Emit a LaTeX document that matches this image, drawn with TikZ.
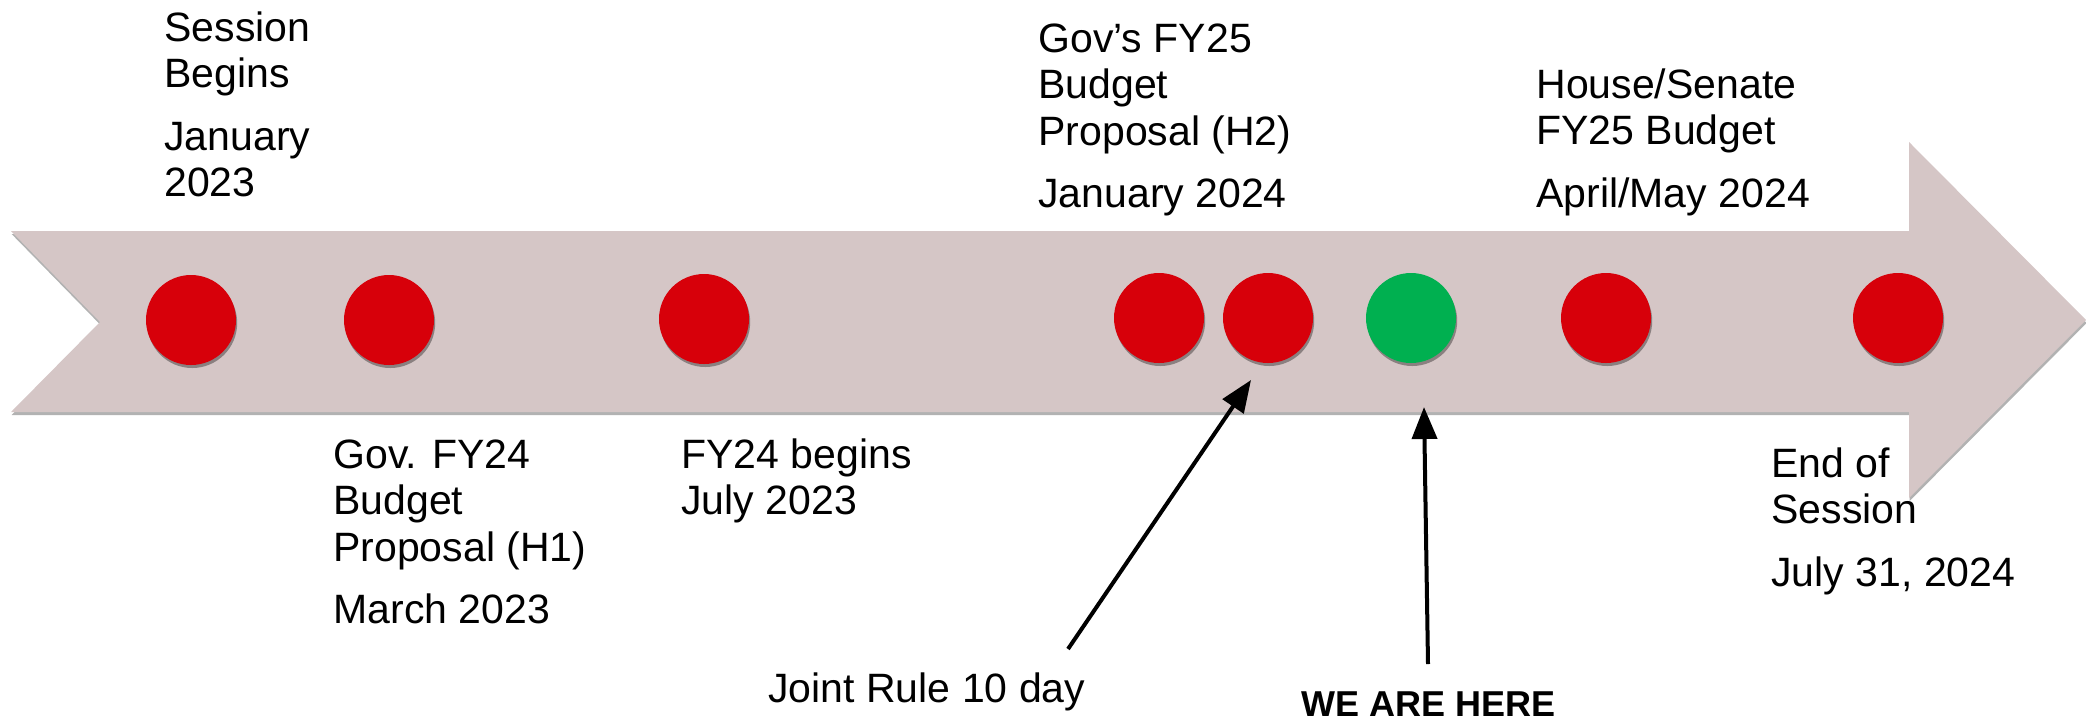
\documentclass[tikz,border=0pt]{standalone}
\usepackage{fontspec}
\setmainfont{Liberation Sans}
\usetikzlibrary{shadows,arrows.meta}
\definecolor{bandcol}{RGB}{213,198,198}
\definecolor{dotred}{RGB}{215,0,10}
\definecolor{dotgreen}{RGB}{0,176,80}
\newcommand\gapline{\vskip8pt}
\tikzset{
  lbl/.style={anchor=base west,inner sep=0pt,font=\fontsize{20.5}{23.3}\selectfont},
  dot/.style={circle,minimum size=45pt,inner sep=0pt,fill=dotred,
    drop shadow={shadow xshift=0.6pt,shadow yshift=-1.5pt,opacity=0.35,fill=black}},
  nowdot/.style={dot,fill=dotgreen},
  pointer/.style={line width=2pt,-{Triangle[length=16pt,width=12.5pt]}}
}
\begin{document}
\begin{tikzpicture}[x=0.5pt,y=-0.5pt]
\useasboundingbox (0,0) rectangle (2086,720);
% timeline band
\path[fill=bandcol,drop shadow={shadow xshift=0.3pt,shadow yshift=-1.5pt,opacity=0.3,fill=black}]
  (11,231) -- (1909,231) -- (1909,142) -- (2086,320) -- (1909,498) -- (1909,412)
  -- (11,412) -- (100,322) -- cycle;
% dots
\node[dot] (d1) at (191,320) {};
\node[dot] (d2) at (389,320) {};
\node[dot] (d3) at (704,319) {};
\node[dot] (d4) at (1159,318) {};
\node[dot] (d5) at (1268,318) {};
\node[nowdot] (d6) at (1411,318) {};
\node[dot] (d7) at (1606,318) {};
\node[dot] (d8) at (1898,318) {};
% labels above
\node[lbl] (t1) at (164,41) {\vtop{\hbox{Session}\hbox{Begins}\gapline\hbox{January}\hbox{2023}}};
\node[lbl] (t4) at (1038,52) {\vtop{\hbox{Gov’s FY25}\hbox{Budget}\hbox{Proposal (H2)}\gapline\hbox{January 2024}}};
\node[lbl] (t7) at (1536,98) {\vtop{\hbox{House/Senate}\hbox{FY25 Budget}\gapline\hbox{April/May 2024}}};
% labels below
\node[lbl] (t2) at (333,468) {\vtop{\hbox{Gov. FY24}\hbox{Budget}\hbox{Proposal (H1)}\gapline\hbox{March 2023}}};
\node[lbl] (t3) at (681,468) {\vtop{\hbox{FY24 begins}\hbox{July 2023}}};
\node[lbl] (t8) at (1771,477) {\vtop{\hbox{End of}\hbox{Session}\gapline\hbox{July 31, 2024}}};
\node[lbl] (jr) at (768,702) {Joint Rule 10 day};
\node[anchor=base west,inner sep=0pt,font=\fontsize{18}{21}\selectfont\bfseries] (wah) at (1301,716) {WE ARE HERE};
% pointers
\coordinate (jrtail) at (1068,649);
\coordinate (jrtip) at (1251,380);
\coordinate (wahtail) at (1428,664);
\coordinate (wahtip) at (1424,407);
\draw[pointer] (jrtail) -- (jrtip);
\draw[pointer] (wahtail) -- (wahtip);
\end{tikzpicture}
\end{document}
